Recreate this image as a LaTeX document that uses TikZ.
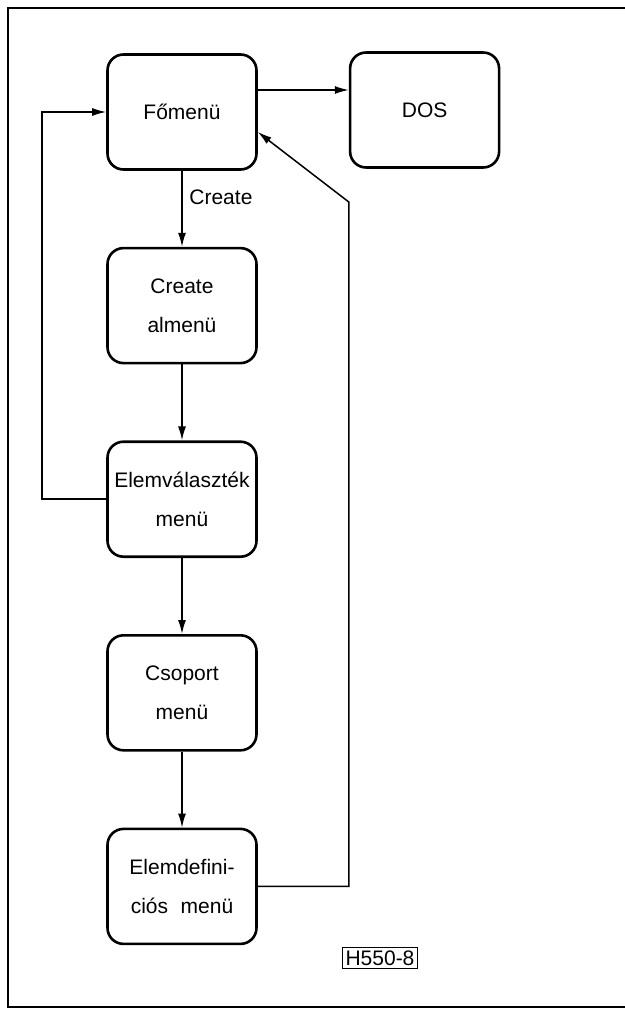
\documentclass[tikz,border=0pt]{standalone}
\usepackage{fontspec}
\setmainfont{Liberation Sans}
\usetikzlibrary{arrows.meta, positioning, calc}

\begin{document}
\begin{tikzpicture}[
    node distance=38pt and 45.5pt,
    every node/.style={font=\fontsize{10.5}{19.5}\selectfont},
    menubox/.style={rectangle, draw=black, line width=1.3pt, rounded corners=8pt, minimum width=74.5pt, minimum height=57.5pt, inner sep=2pt, align=center},
    arrow/.style={-{Latex[length=7pt,width=4pt]}, line width=0.75pt},
    line/.style={line width=0.75pt}
]

% outer frame and page size
\useasboundingbox (-91pt,56pt) rectangle (221.5pt,-449.5pt);
\draw[line width=1pt] (221.5pt,52pt) -- (-87pt,52pt) -- (-87pt,-447.5pt) -- (221.5pt,-447.5pt);

% main menu and DOS
\node (fo) [menubox] {Főmenü};
\node (dos) [menubox, right=of fo, yshift=1pt] {DOS};

% menu chain
\node (cre) [menubox, below=of fo] {Create\\almenü};
\node (elv) [menubox, below=of cre] {Elemválaszték\\menü};
\node (csop) [menubox, below=of elv] {Csoport\\menü};
\node (edef) [menubox, below=of csop] {Elemdefini-\\ciós\hspace{0.6em}menü};

% figure code
\node (code) [draw=black, line width=0.9pt, inner sep=1.5pt, font=\fontsize{10.5}{12}\selectfont] at (99pt,-423pt) {H550-8};

% return point of the right loop
\coordinate (bend) at ($(fo.center)+(0,-45pt)$);
\coordinate (bend) at (bend -| dos.west);

% Arrows
\draw [arrow] ([yshift=11pt]fo.east) -- ([yshift=11pt]fo.east -| dos.west);
\draw [arrow] (fo) -- node[right, pos=0.35] {Create} (cre);
\draw [arrow] (cre) -- (elv);
\draw [arrow] (elv) -- (csop);
\draw [arrow] (csop) -- (edef);
\draw [arrow] (elv.west) -- ++(-32pt,0) |- (fo.west);
\draw [arrow] (edef.east) -| (bend) -- ([yshift=-10pt]fo.east);

\end{tikzpicture}
\end{document}
